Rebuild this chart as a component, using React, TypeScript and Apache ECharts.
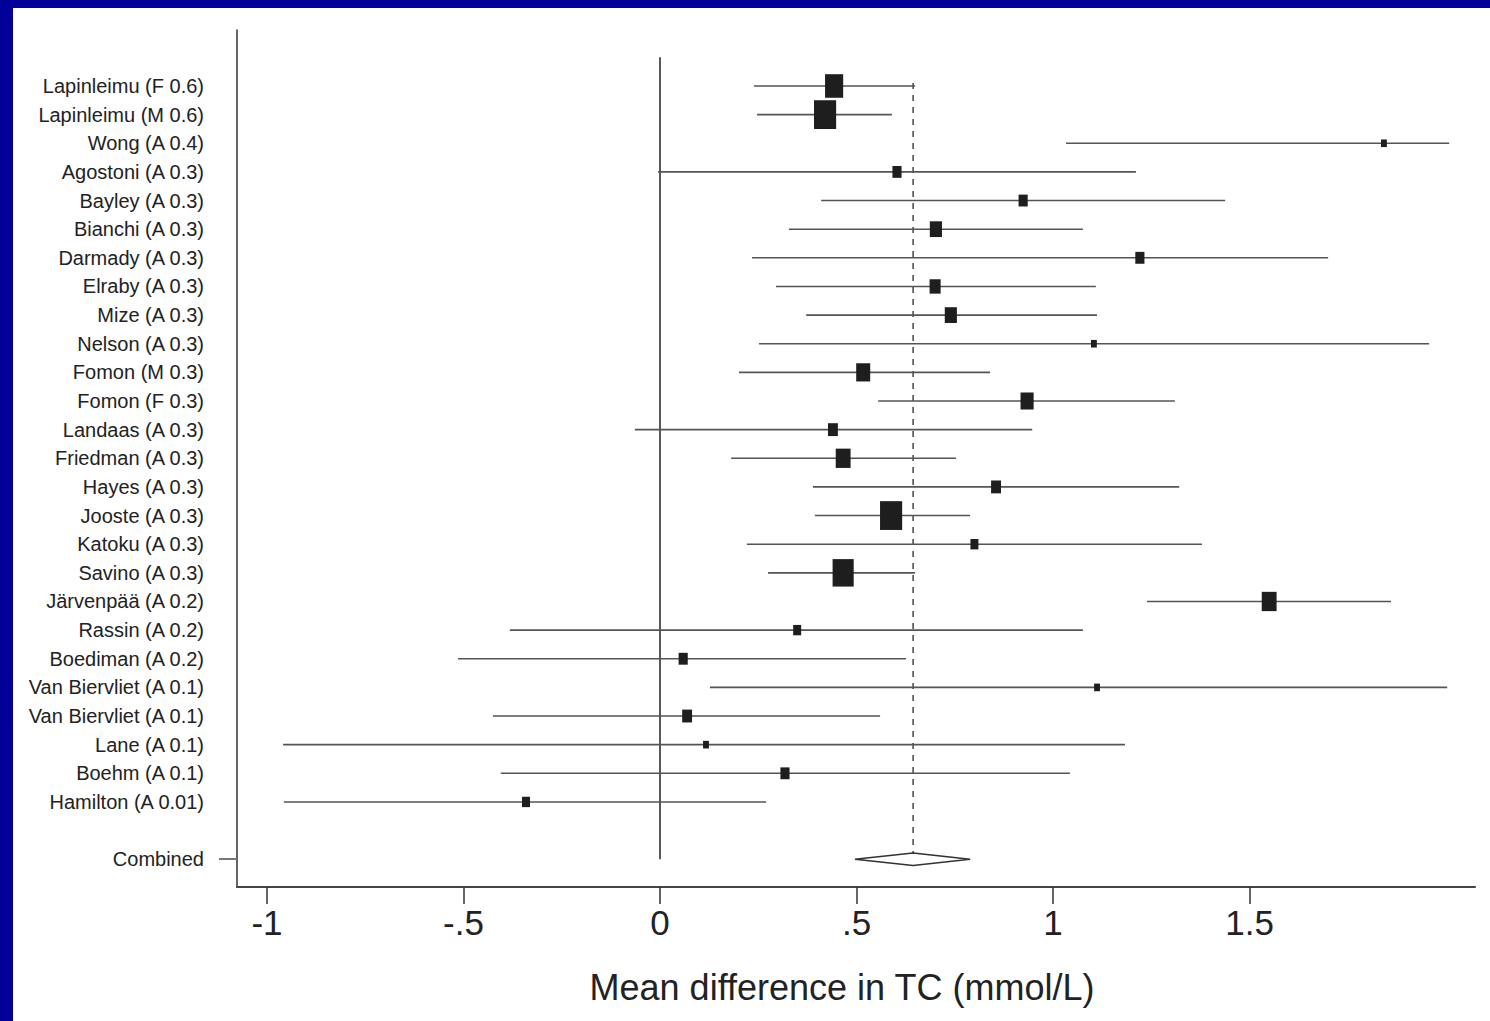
import React, { useEffect, useRef } from "react";
import * as echarts from "echarts";

const studies = [
  "Lapinleimu (F 0.6)", "Lapinleimu (M 0.6)", "Wong (A 0.4)", "Agostoni (A 0.3)",
  "Bayley (A 0.3)", "Bianchi (A 0.3)", "Darmady (A 0.3)", "Elraby (A 0.3)",
  "Mize (A 0.3)", "Nelson (A 0.3)", "Fomon (M 0.3)", "Fomon (F 0.3)",
  "Landaas (A 0.3)", "Friedman (A 0.3)", "Hayes (A 0.3)", "Jooste (A 0.3)",
  "Katoku (A 0.3)", "Savino (A 0.3)", "Järvenpää (A 0.2)", "Rassin (A 0.2)",
  "Boediman (A 0.2)", "Van Biervliet (A 0.1)", "Van Biervliet (A 0.1)", "Lane (A 0.1)",
  "Boehm (A 0.1)", "Hamilton (A 0.01)",
];
const estimates = [
  0.443, 0.42, 1.842, 0.603, 0.924, 0.702, 1.221, 0.70, 0.74, 1.104, 0.517, 0.934,
  0.44, 0.466, 0.855, 0.588, 0.80, 0.466, 1.55, 0.349, 0.059, 1.112, 0.069, 0.117,
  0.318, -0.341,
];
const ciLow = [
  0.239, 0.247, 1.033, -0.005, 0.41, 0.328, 0.234, 0.295, 0.372, 0.252, 0.201, 0.555,
  -0.064, 0.181, 0.389, 0.394, 0.221, 0.275, 1.239, -0.382, -0.514, 0.127, -0.425, -0.959,
  -0.405, -0.957,
];
const ciHigh = [
  0.649, 0.59, 2.008, 1.211, 1.438, 1.076, 1.70, 1.109, 1.112, 1.957, 0.84, 1.31,
  0.947, 0.753, 1.321, 0.789, 1.379, 0.649, 1.86, 1.076, 0.626, 2.003, 0.56, 1.183,
  1.043, 0.27,
];
const weights = [
  6.7, 10, 0.7, 1.7, 1.7, 3.0, 1.7, 2.5, 3.0, 0.7, 4.0, 3.5, 2.0, 4.5, 2.0, 10, 1.3,
  9.1, 4.5, 1.3, 1.7, 0.7, 2.0, 0.7, 1.7, 1.3,
];
const combinedLabel = "Combined";
const combinedEst = 0.644;
const combinedLow = 0.496;
const combinedHigh = 0.789;
const xTicks = [-1, -0.5, 0, 0.5, 1, 1.5];
const xTitle = "Mean difference in TC (mmol/L)";

const FONT = "'Liberation Sans', Arial, Helvetica, sans-serif";

export default function App() {
  const ref = useRef<HTMLDivElement>(null);
  useEffect(() => {
    if (!ref.current) return;
    const chart = echarts.init(ref.current, null, { renderer: "svg" });
    const n = studies.length;
    const combinedRow = n + 1;
    const labelRows = [...studies.map((_, i) => i), combinedRow];
    const rowLabel = (v: number) => {
      const r = Math.round(v);
      if (r === combinedRow) return combinedLabel;
      return studies[r] ?? "";
    };
    const ciData = studies.map((_, i) => [ciLow[i], ciHigh[i], i]);
    const boxData = studies.map((_, i) => [estimates[i], i]);
    const dh = 0.22;
    const option: any = {
      animation: false,
      backgroundColor: "#ffffff",
      graphic: [
        { type: "rect", left: 0, top: 0, shape: { width: 1490, height: 8 }, style: { fill: "#000099" }, z: 100 },
        { type: "rect", left: 0, top: 0, shape: { width: 13, height: 1021 }, style: { fill: "#000099" }, z: 100 },
      ],
      grid: { left: 237, top: 30, right: 15, bottom: 134, containLabel: false },
      xAxis: {
        type: "value",
        min: -1.0763,
        max: 2.0737,
        splitLine: { show: false },
        axisLine: { show: true, onZero: false, lineStyle: { color: "#444", width: 2 } },
        axisTick: { show: true, length: 17, customValues: xTicks, lineStyle: { color: "#333", width: 1.5 } },
        axisLabel: {
          customValues: xTicks,
          formatter: (v: number) => String(v).replace(/^(-?)0\./, "$1."),
          fontSize: 35,
          color: "#222",
          fontFamily: FONT,
          margin: 18,
        },
        name: xTitle,
        nameLocation: "middle",
        nameGap: 82,
        nameTextStyle: { fontSize: 36, color: "#222", fontFamily: FONT, padding: [0, 28, 0, 0] },
      },
      yAxis: {
        type: "value",
        inverse: true,
        min: -1.955,
        max: 27.97,
        splitLine: { show: false },
        axisLine: { show: true, onZero: false, lineStyle: { color: "#333", width: 1.5 } },
        axisTick: { show: true, length: 18, customValues: [combinedRow], lineStyle: { color: "#777", width: 2 } },
        axisLabel: {
          customValues: labelRows,
          formatter: rowLabel,
          fontSize: 20,
          color: "#222",
          fontFamily: FONT,
          margin: 33,
        },
      },
      series: [
        {
          type: "line",
          data: [[0, -1], [0, combinedRow]],
          showSymbol: false,
          lineStyle: { color: "#222", width: 1.5 },
          silent: true,
          z: 1,
        },
        {
          type: "line",
          data: [[combinedEst, -0.1], [combinedEst, combinedRow - dh]],
          showSymbol: false,
          lineStyle: { color: "#444", width: 1.5, type: [6, 6] },
          silent: true,
          z: 1,
        },
        {
          type: "custom",
          data: ciData,
          encode: { x: [0, 1], y: 2 },
          renderItem: (params: any, api: any) => {
            const a = api.coord([api.value(0), api.value(2)]);
            const b = api.coord([api.value(1), api.value(2)]);
            return {
              type: "line",
              shape: { x1: a[0], y1: a[1], x2: b[0], y2: b[1] },
              style: { stroke: "#555", lineWidth: 1.6 },
            };
          },
          z: 2,
        },
        {
          type: "scatter",
          data: boxData,
          symbol: "rect",
          symbolSize: (val: any, params: any) => {
            const s = 7 * Math.sqrt(weights[params.dataIndex]);
            return [s, s * 1.3];
          },
          itemStyle: { color: "#1e1e1e", opacity: 1 },
          z: 3,
        },
        {
          type: "line",
          data: [
            [combinedLow, combinedRow],
            [combinedEst, combinedRow - dh],
            [combinedHigh, combinedRow],
            [combinedEst, combinedRow + dh],
            [combinedLow, combinedRow],
          ],
          showSymbol: false,
          lineStyle: { color: "#333", width: 1.5 },
          silent: true,
          z: 3,
        },
      ],
    };
    chart.setOption(option);
    return () => chart.dispose();
  }, []);
  return (
    <div
      ref={ref}
      style={{ position: "fixed", left: 0, top: 0, width: 1490, height: 1021, background: "#fff" }}
    />
  );
}
